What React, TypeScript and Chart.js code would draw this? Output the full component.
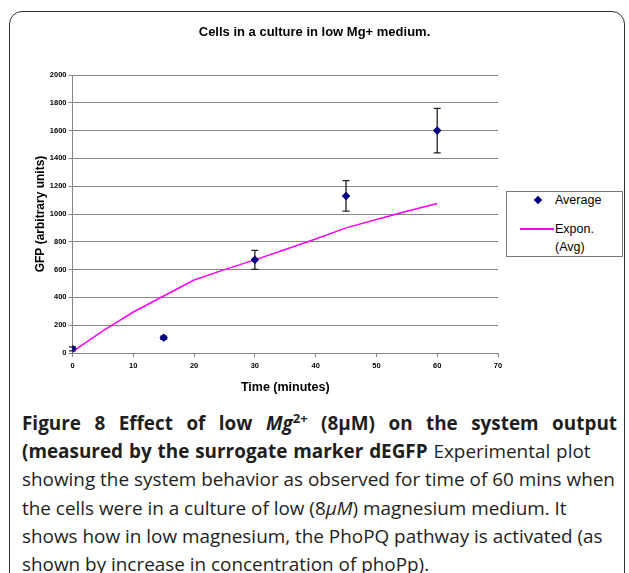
import React, { useEffect, useRef } from "react";
import { Chart, registerables } from "chart.js";

Chart.register(...registerables);

const chartTitle = "Cells in a culture in low Mg+ medium.";
const xTitle = "Time (minutes)";
const yTitle = "GFP (arbitrary units)";
const timeVals = [0, 15, 30, 45, 60];
const avgVals = [30, 110, 670, 1130, 1600];
const errVals = [14, 12, 68, 110, 160];
const trendTimes = [0, 5, 10, 15, 20, 25, 30, 35, 40, 45, 50, 55, 60];
const trendVals = [10, 160, 295, 410, 525, 600, 670, 745, 820, 900, 960, 1020, 1075];
const xMin = 0;
const xMax = 70;
const xStep = 10;
const yMin = 0;
const yMax = 2000;
const yStep = 200;
const legendLabels = ["Average", "Expon.\n(Avg)"];

const NAVY = "#000080";
const MAGENTA = "#ff00ff";
const GRID = "#858585";
const FONT = "Arial, 'Liberation Sans', sans-serif";

export default function App() {
  const ref = useRef<HTMLCanvasElement>(null);

  useEffect(() => {
    const errorBars = {
      id: "errorBars",
      beforeDatasetsDraw(chart: any) {
        const { ctx, scales } = chart;
        const x = scales.x;
        const y = scales.y;
        ctx.save();
        ctx.strokeStyle = "#222";
        ctx.lineWidth = 1.3;
        timeVals.forEach((t, i) => {
          const px = x.getPixelForValue(t);
          const top = y.getPixelForValue(avgVals[i] + errVals[i]);
          const bot = y.getPixelForValue(avgVals[i] - errVals[i]);
          ctx.beginPath();
          ctx.moveTo(px, top);
          ctx.lineTo(px, bot);
          ctx.moveTo(px - 3.5, top);
          ctx.lineTo(px + 3.5, top);
          ctx.moveTo(px - 3.5, bot);
          ctx.lineTo(px + 3.5, bot);
          ctx.stroke();
        });
        ctx.restore();
      },
    };

    const chart = new Chart(ref.current as HTMLCanvasElement, {
      type: "scatter",
      data: {
        datasets: [
          {
            label: legendLabels[0],
            data: timeVals.map((t, i) => ({ x: t, y: avgVals[i] })),
            pointStyle: "rectRot",
            pointRadius: 4.3,
            backgroundColor: NAVY,
            borderColor: NAVY,
            borderWidth: 0,
            showLine: false,
            order: 0,
          },
          {
            label: legendLabels[1],
            data: trendTimes.map((t, i) => ({ x: t, y: trendVals[i] })),
            showLine: true,
            pointRadius: 0,
            borderColor: MAGENTA,
            borderWidth: 1.5,
            backgroundColor: MAGENTA,
            order: 1,
          },
        ],
      },
      options: {
        responsive: false,
        animation: false,
        events: [],
        layout: { padding: { left: 0, right: 0, top: 0, bottom: 5 } },
        plugins: {
          legend: { display: false },
          tooltip: { enabled: false },
          title: {
            display: true,
            text: chartTitle,
            color: "#000",
            font: { family: FONT, size: 13, weight: "bold", lineHeight: 1.2 },
            padding: { top: 25, bottom: 34.4 },
          },
        },
        scales: {
          x: {
            type: "linear",
            min: xMin,
            max: xMax,
            ticks: {
              stepSize: xStep,
              color: "#000",
              font: { family: FONT, size: 7.5, weight: "bold" },
              padding: 4.5,
              maxRotation: 0,
              callback: (v: any) => String(v),
            },
            grid: { drawOnChartArea: false, drawTicks: true, tickLength: 4, color: GRID },
            border: { color: GRID, width: 1 },
            title: {
              display: true,
              text: xTitle,
              color: "#000",
              font: { family: FONT, size: 12.5, weight: "bold", lineHeight: 1.2 },
              padding: { top: 0, bottom: 0 },
            },
            afterFit: (s: any) => {
              s.height = 42;
            },
          },
          y: {
            type: "linear",
            position: "left",
            min: yMin,
            max: yMax,
            ticks: {
              stepSize: yStep,
              color: "#000",
              font: { family: FONT, size: 7.5, weight: "bold" },
              padding: 2,
              callback: (v: any) => String(v),
            },
            grid: { color: GRID, tickLength: 4, lineWidth: 1 },
            border: { color: GRID, width: 1 },
            title: {
              display: true,
              text: yTitle,
              color: "#000",
              font: { family: FONT, size: 12, weight: "bold", lineHeight: 1.2 },
              padding: { top: 33, bottom: 0 },
            },
            afterFit: (s: any) => {
              s.width = 72.5;
            },
          },
          yRight: {
            type: "linear",
            position: "right",
            display: true,
            ticks: { display: false },
            grid: { display: false, drawTicks: false },
            border: { display: false },
            afterFit: (s: any) => {
              s.width = 131;
            },
          },
        },
      },
      plugins: [errorBars],
    } as any);
    return () => chart.destroy();
  }, []);

  const captionStyle: React.CSSProperties = {
    position: "absolute",
    left: 22,
    top: 409,
    width: 595,
    fontFamily: "'Open Sans', 'Noto Sans', sans-serif",
    fontSize: 18.9,
    lineHeight: "28.2px",
    color: "#1e1e1e",
    whiteSpace: "nowrap",
  };

  return (
    <div style={{ position: "absolute", left: 0, top: 0, width: 629, height: 573, overflow: "hidden", background: "#fff" }}>
      <div
        style={{
          position: "absolute",
          left: 9,
          top: 11,
          width: 616,
          height: 600,
          border: "1.5px solid #333",
          borderRadius: 13,
          boxSizing: "border-box",
        }}
      />
      <canvas ref={ref} width={629} height={400} style={{ position: "absolute", left: 0, top: 0, width: 629, height: 400 }} />
      <div
        style={{
          position: "absolute",
          left: 506,
          top: 191,
          width: 117,
          height: 66,
          border: "1px solid #777",
          boxSizing: "border-box",
          fontFamily: FONT,
          fontSize: 12.5,
          color: "#000",
          background: "#fff",
        }}
      >
        <div style={{ position: "absolute", left: 28, top: 5, width: 6, height: 6, background: NAVY, transform: "rotate(45deg)" }} />
        <div style={{ position: "absolute", left: 48, top: 1, lineHeight: "14px" }}>{legendLabels[0]}</div>
        <div style={{ position: "absolute", left: 13, top: 36, width: 34, height: 1.5, background: MAGENTA }} />
        <div style={{ position: "absolute", left: 48, top: 28, lineHeight: "18px", whiteSpace: "pre" }}>{legendLabels[1]}</div>
      </div>
      <div style={captionStyle}>
        <div style={{ fontWeight: 700, textAlign: "justify", textAlignLast: "justify" }}>
          Figure 8 Effect of low <i>Mg</i>
          <sup style={{ fontSize: 13, lineHeight: 0 }}>2+</sup> (8μM) on the system output
        </div>
        <div style={{ wordSpacing: 1 }}>
          <b>(measured by the surrogate marker dEGFP</b> Experimental plot
        </div>
        <div>showing the system behavior as observed for time of 60 mins when</div>
        <div>
          the cells were in a culture of low (8<i>μM</i>) magnesium medium. It
        </div>
        <div>shows how in low magnesium, the PhoPQ pathway is activated (as</div>
        <div>shown by increase in concentration of phoPp).</div>
      </div>
    </div>
  );
}
